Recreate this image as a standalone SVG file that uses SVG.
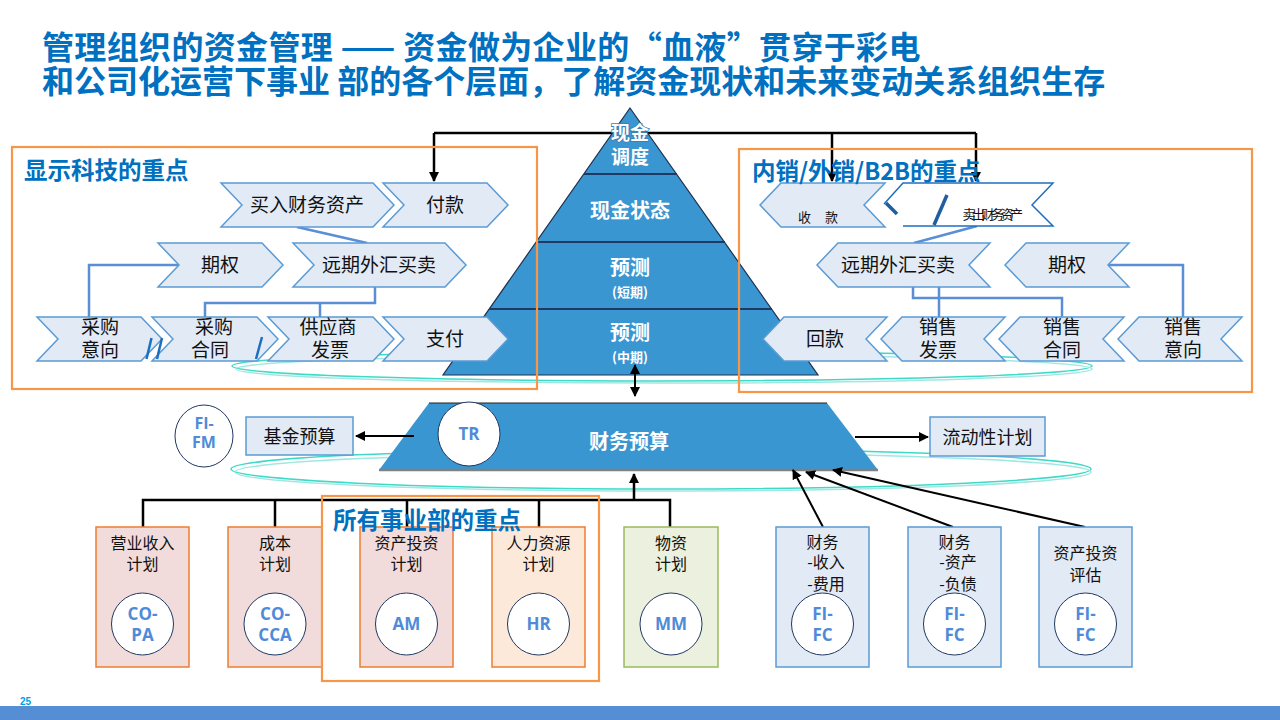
<svg xmlns="http://www.w3.org/2000/svg" width="1280" height="720" viewBox="0 0 1280 720">
<defs>
<style>
.cjk{font-family:"Noto Sans CJK SC","Noto Sans",sans-serif;}
.title{font-family:"Noto Sans CJK SC",sans-serif;font-weight:bold;font-size:32px;fill:#0070C0;}
.ptitle{font-family:"Noto Sans CJK SC",sans-serif;font-weight:bold;font-size:23.5px;fill:#0070C0;}
.chev{fill:#E2EAF5;stroke:#5B9BD5;stroke-width:1.5;}
.ct{font-family:"Noto Sans CJK SC",sans-serif;font-size:19px;fill:#111;text-anchor:middle;}
.pt{font-family:"Noto Sans CJK SC",sans-serif;font-weight:bold;font-size:20px;fill:#fff;text-anchor:middle;}
.pts{font-family:"Noto Sans CJK SC",sans-serif;font-weight:bold;font-size:13px;fill:#fff;text-anchor:middle;}
.blue{fill:none;stroke:#5A8ED6;stroke-width:2.5;}
.blk{fill:none;stroke:#000;stroke-width:2.5;}
.teal1{fill:none;stroke:#3FD9C8;stroke-width:1.5;}
.teal2{fill:none;stroke:#9FE8E2;stroke-width:1.5;}
.obox{fill:none;stroke:#F79646;stroke-width:2.2;}
.circ{fill:#fff;stroke:#1F3864;stroke-width:1;}
.ctxt{font-family:"Open Sans","Noto Sans",sans-serif;font-weight:bold;font-size:17px;fill:#4F8BD8;text-anchor:middle;}
.bt{font-family:"Noto Sans CJK SC",sans-serif;font-size:16px;fill:#111;text-anchor:middle;}
.slash{stroke:#1F6FC0;stroke-width:2.5;}
</style>
<marker id="ah" viewBox="0 0 10 10" refX="9" refY="5" markerWidth="10" markerHeight="10" markerUnits="userSpaceOnUse" orient="auto-start-reverse">
<path d="M0,0 L10,5 L0,10 z" fill="#000"/>
</marker>
</defs>

<rect x="0" y="0" width="1280" height="720" fill="#fff"/>

<g id="title">
<text class="title" x="42" y="59" letter-spacing="0.35">管理组织的资金管理 —— 资金做为企业的“血液”贯穿于彩电</text>
<text class="title" x="42" y="93">和公司化运营下事业 部的各个层面，了解资金现状和未来变动关系组织生存</text>
</g>

<g id="connectors">
<path class="blk" d="M434,133 H976"/>
<path class="blk" d="M434,133 V181" marker-end="url(#ah)"/>
<path class="blk" d="M832,133 V181" marker-end="url(#ah)"/>
<path class="blk" d="M976,133 V181" marker-end="url(#ah)"/>
<ellipse class="teal1" cx="662" cy="366" rx="430" ry="15"/>
<ellipse class="teal2" cx="664" cy="369" rx="428" ry="14"/>
<ellipse class="teal1" cx="661" cy="469" rx="430" ry="20"/>
<ellipse class="teal2" cx="663" cy="472" rx="428" ry="19"/>
</g>

<g id="pyramid">
<polygon points="630,108 818,375 443,375" fill="#3A96D0" stroke="#1F3050" stroke-width="1.2"/>
<line x1="584" y1="174" x2="677" y2="174" stroke="#1F3864" stroke-width="2"/>
<line x1="536" y1="242" x2="725" y2="242" stroke="#1F3864" stroke-width="2"/>
<line x1="489" y1="309" x2="772" y2="309" stroke="#1F3864" stroke-width="2"/>
<text class="pt" x="630" y="140" stroke="#3A7FB8" stroke-width="1.6" paint-order="stroke" style="font-size:19px">现金</text>
<text class="pt" x="630" y="164" style="font-size:19px">调度</text>
<text class="pt" x="630" y="218">现金状态</text>
<text class="pt" x="630" y="275">预测</text>
<text class="pts" x="630" y="297">(短期)</text>
<text class="pt" x="630" y="340">预测</text>
<text class="pts" x="630" y="362">(中期)</text>
</g>

<g id="arrows-mid">
<path class="blk" d="M635,365 V396" marker-start="url(#ah)" marker-end="url(#ah)" style="stroke-width:2"/>
</g>

<g id="left-panel">
<path class="blue" d="M297,227 L367,243"/>
<path class="blue" d="M89,317 V265 H179"/>
<path class="blue" d="M375,287 V303 H205 V317"/>
<path class="blue" d="M320,303 V317"/>
<g id="n-buy-fin"><polygon class="chev" points="221,183 373,183 394,205 373,227 221,227 242,205"/><text class="ct" x="307" y="212">买入财务资产</text></g>
<g id="n-pay"><polygon class="chev" points="383,183 487,183 508,205 487,227 383,227 404,205"/><text class="ct" x="445" y="212">付款</text></g>
<g id="n-option-l"><polygon class="chev" points="158,243 262,243 283,265 262,287 158,287 179,265"/><text class="ct" x="220" y="272">期权</text></g>
<g id="n-fx-l"><polygon class="chev" points="293,243 445,243 466,265 445,287 293,287 314,265"/><text class="ct" x="379" y="272">远期外汇买卖</text></g>
<g id="n-pur-int"><polygon class="chev" points="37,317 141,317 162,339 141,361 37,361 58,339"/><text class="ct" x="100" y="334">采购</text><text class="ct" x="100" y="357">意向</text></g>
<g id="n-pur-con"><polygon class="chev" points="152,317 257,317 278,339 257,361 152,361 173,339"/><text class="ct" x="214" y="334">采购</text><text class="ct" x="210" y="357">合同</text></g>
<g id="n-sup-inv"><polygon class="chev" points="268,317 373,317 394,339 373,361 268,361 289,339"/><text class="ct" x="328" y="334">供应商</text><text class="ct" x="330" y="357">发票</text></g>
<g id="n-payment"><polygon class="chev" points="383,317 487,317 508,339 487,361 383,361 404,339"/><text class="ct" x="445" y="346">支付</text></g>
<line class="slash" x1="146.5" y1="359" x2="151.5" y2="338"/>
<line class="slash" x1="157" y1="359" x2="162" y2="338"/>
<line class="slash" x1="256" y1="359" x2="262" y2="337"/>
<rect class="obox" x="12" y="147" width="525" height="242"/>
<text class="ptitle" x="24" y="179">显示科技的重点</text>
</g>

<g id="right-panel">
<path class="blue" d="M977,226 L914,243"/>
<path class="blue" d="M913,287 V298 H1062 V317"/>
<path class="blue" d="M939,287 V317"/>
<path class="blue" d="M1108,265 H1183 V317"/>
<g id="n-receive"><polygon class="chev" points="760,205 781,183 885,183 864,205 885,227 781,227"/><text class="cjk" font-size="13" fill="#111"><tspan x="798" y="222">收</tspan><tspan x="825" y="222">款</tspan></text></g>
<g id="n-sell-fin"><path d="M884,204 L903,183 L1053,183 L1032,205 L1053,226 L903,226" fill="#fff" stroke="#1F6FC0" stroke-width="1.5"/>
<line x1="886" y1="203" x2="897" y2="214" stroke="#1F5F9F" stroke-width="3.5"/>
<line x1="947" y1="195" x2="934" y2="225" stroke="#1F5F9F" stroke-width="3.5"/>
<text class="cjk" x="991" y="219" font-size="13" fill="#111" text-anchor="middle" letter-spacing="-3.5">卖出财务资产</text></g>
<g id="n-fx-r"><polygon class="chev" points="817,265 838,243 990,243 969,265 990,287 838,287"/><text class="ct" x="898" y="272">远期外汇买卖</text></g>
<g id="n-option-r"><polygon class="chev" points="1005,265 1026,243 1129,243 1108,265 1129,287 1026,287"/><text class="ct" x="1067" y="272">期权</text></g>
<g id="n-collect"><polygon class="chev" points="763,339 784,317 887,317 866,339 887,361 784,361"/><text class="ct" x="825" y="346">回款</text></g>
<g id="n-sale-inv"><polygon class="chev" points="881,339 902,317 1005,317 984,339 1005,361 902,361"/><text class="ct" x="938" y="334">销售</text><text class="ct" x="938" y="357">发票</text></g>
<g id="n-sale-con"><polygon class="chev" points="999,339 1020,317 1124,317 1103,339 1124,361 1020,361"/><text class="ct" x="1062" y="334">销售</text><text class="ct" x="1062" y="357">合同</text></g>
<g id="n-sale-int"><polygon class="chev" points="1118,339 1139,317 1242,317 1221,339 1242,361 1139,361"/><text class="ct" x="1183" y="334">销售</text><text class="ct" x="1183" y="357">意向</text></g>
<rect class="obox" x="739" y="149" width="513" height="243"/>
<text class="ptitle" x="752" y="180">内销/外销/B2B的重点</text>
</g>

<g id="budget">
<polygon points="429,403 827,403 878,470 379,470" fill="#3A96D0"/>
<line x1="429" y1="403" x2="827" y2="403" stroke="#222" stroke-width="1.2"/>
<line x1="379" y1="470" x2="878" y2="470" stroke="#808080" stroke-width="2.5"/>
<ellipse class="circ" cx="469" cy="434" rx="31" ry="32"/>
<text class="ctxt" x="469" y="440">TR</text>
<text class="pt" x="629" y="449">财务预算</text>
</g>

<g id="fifm">
<ellipse class="circ" cx="204" cy="436" rx="29" ry="31"/>
<text class="ctxt" x="204" y="429" style="font-size:16px">FI-</text>
<text class="ctxt" x="204" y="448" style="font-size:16px">FM</text>
</g>
<g id="fund-budget">
<rect x="246" y="417" width="107" height="38" fill="#E2EAF5" stroke="#5B9BD5" stroke-width="1.5"/>
<text class="ct" x="299.5" y="443" style="font-size:18px">基金预算</text>
</g>
<g id="liquidity">
<rect x="930" y="417" width="115" height="39" fill="#E2EAF5" stroke="#5B9BD5" stroke-width="1.5"/>
<text class="ct" x="987.5" y="444" style="font-size:18px">流动性计划</text>
</g>

<g id="connectors-lower">
<path class="blk" d="M414,436 H356" marker-end="url(#ah)" style="stroke-width:2"/>
<path class="blk" d="M855,437 H928" marker-end="url(#ah)" style="stroke-width:2"/>
<path class="blk" d="M143,527 V500 H670 V527"/>
<path class="blk" d="M275,500 V527 M407,500 V527 M539,500 V527"/>
<path class="blk" d="M634,500 V474" marker-end="url(#ah)"/>
<path class="blk" d="M823,527 L793,470" marker-end="url(#ah)" style="stroke-width:2"/>
<path class="blk" d="M953,527 L806,472" marker-end="url(#ah)" style="stroke-width:2"/>
<path class="blk" d="M1085,527 L833,470" marker-end="url(#ah)" style="stroke-width:2"/>
</g>

<g id="b-copa">
<rect x="96" y="527" width="93" height="140" fill="#F2DCDB" stroke="#ED7D31" stroke-width="1.5"/>
<text class="bt" x="142.5" y="549">营业收入</text><text class="bt" x="142.5" y="570">计划</text>
<circle class="circ" cx="142.5" cy="624" r="31"/>
<text class="ctxt" x="142.5" y="620">CO-</text><text class="ctxt" x="142.5" y="641">PA</text>
</g>
<g id="b-cocca">
<rect x="228" y="527" width="94" height="140" fill="#F2DCDB" stroke="#ED7D31" stroke-width="1.5"/>
<text class="bt" x="275" y="549">成本</text><text class="bt" x="275" y="570">计划</text>
<circle class="circ" cx="275" cy="624" r="31"/>
<text class="ctxt" x="275" y="620">CO-</text><text class="ctxt" x="275" y="641">CCA</text>
</g>
<g id="b-am">
<rect x="360" y="527" width="93" height="140" fill="#F2DCDB" stroke="#ED7D31" stroke-width="1.5"/>
<text class="bt" x="406.5" y="549">资产投资</text><text class="bt" x="406.5" y="570">计划</text>
<circle class="circ" cx="406.5" cy="624" r="31"/>
<text class="ctxt" x="406.5" y="630">AM</text>
</g>
<g id="b-hr">
<rect x="492" y="527" width="93" height="140" fill="#FDE9D9" stroke="#ED7D31" stroke-width="1.5"/>
<text class="bt" x="538.5" y="549">人力资源</text><text class="bt" x="538.5" y="570">计划</text>
<circle class="circ" cx="538.5" cy="624" r="31"/>
<text class="ctxt" x="538.5" y="630">HR</text>
</g>
<g id="b-mm">
<rect x="624" y="527" width="94" height="140" fill="#EBF1DE" stroke="#9BBB59" stroke-width="1.5"/>
<text class="bt" x="671" y="549">物资</text><text class="bt" x="671" y="570">计划</text>
<circle class="circ" cx="671" cy="624" r="31"/>
<text class="ctxt" x="671" y="630">MM</text>
</g>
<g id="b-fifc1">
<rect x="776" y="527" width="93" height="140" fill="#E2EAF5" stroke="#5B9BD5" stroke-width="1.5"/>
<text class="bt" x="822.5" y="548">财务</text><text class="bt" x="826" y="568">-收入</text><text class="bt" x="826" y="590">-费用</text>
<circle class="circ" cx="822.5" cy="624" r="31"/>
<text class="ctxt" x="822.5" y="620">FI-</text><text class="ctxt" x="822.5" y="641">FC</text>
</g>
<g id="b-fifc2">
<rect x="908" y="527" width="93" height="140" fill="#E2EAF5" stroke="#5B9BD5" stroke-width="1.5"/>
<text class="bt" x="954.5" y="548">财务</text><text class="bt" x="958" y="568">-资产</text><text class="bt" x="958" y="590">-负债</text>
<circle class="circ" cx="954.5" cy="624" r="31"/>
<text class="ctxt" x="954.5" y="620">FI-</text><text class="ctxt" x="954.5" y="641">FC</text>
</g>
<g id="b-fifc3">
<rect x="1039" y="527" width="93" height="140" fill="#E2EAF5" stroke="#5B9BD5" stroke-width="1.5"/>
<text class="bt" x="1085.5" y="559">资产投资</text><text class="bt" x="1085.5" y="581">评估</text>
<circle class="circ" cx="1085.5" cy="624" r="31"/>
<text class="ctxt" x="1085.5" y="620">FI-</text><text class="ctxt" x="1085.5" y="641">FC</text>
</g>

<g id="bu-focus">
<rect class="obox" x="322" y="496" width="277" height="185"/>
<text class="ptitle" x="333" y="529">所有事业部的重点</text>
</g>

<g id="footer">
<rect x="0" y="706" width="1280" height="14" fill="#558ED5"/>
<text x="20" y="705" font-family="Liberation Sans, sans-serif" font-weight="bold" font-size="10" fill="#00A0E8">25</text>
</g>
</svg>
